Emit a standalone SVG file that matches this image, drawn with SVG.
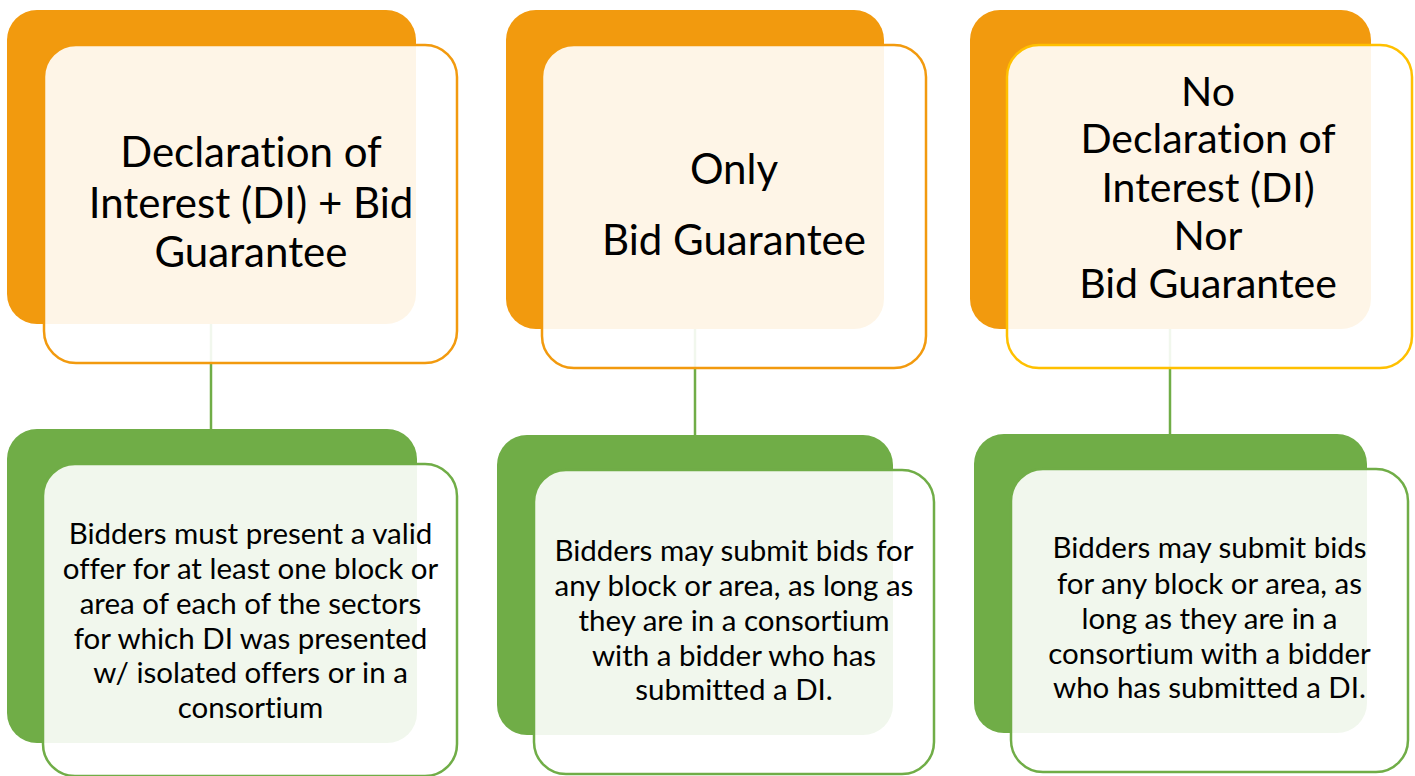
<svg xmlns="http://www.w3.org/2000/svg" width="1415" height="776" viewBox="0 0 1415 776">
<style>
.bo{fill:#F29A0E}
.bg{fill:#70AD47}
.fo{fill:#fff;fill-opacity:0.9;stroke:#F29A0E;stroke-width:2.5}
.fy{fill:#fff;fill-opacity:0.9;stroke:#FFC000;stroke-width:2.5}
.fg{fill:#fff;fill-opacity:0.9;stroke:#70AD47;stroke-width:2.5}
.conn line{stroke:#70AD47;stroke-width:2.5}
text{font-family:Lato,"Liberation Sans",sans-serif;fill:#000;text-anchor:middle;font-variant-ligatures:none}
.t{font-size:42px}
.t3{font-size:41px}
.b{font-size:29.5px}
</style>
<rect width="1415" height="776" fill="#fff"/>
<g id="backs">
<rect class="bo" x="7" y="10" width="409" height="314" rx="30"/>
<rect class="bo" x="506" y="10" width="378" height="319" rx="30"/>
<rect class="bo" x="970" y="10" width="401" height="319" rx="30"/>
<rect class="bg" x="7" y="429" width="410" height="314" rx="30"/>
<rect class="bg" x="497" y="435" width="396" height="300" rx="30"/>
<rect class="bg" x="974" y="434" width="393" height="299" rx="30"/>
</g>
<g id="connectors" class="conn">
<line x1="211" y1="324" x2="211" y2="429"/>
<line x1="695" y1="329" x2="695" y2="435"/>
<line x1="1170" y1="329" x2="1170" y2="434"/>
</g>
<g id="node1">
<rect class="fo" x="44" y="45" width="413" height="318" rx="32"/>
<text class="t" x="251" y="167">Declaration of</text>
<text class="t" x="251" y="218">Interest (DI) + Bid</text>
<text class="t" x="251" y="267">Guarantee</text>
</g>
<g id="node2">
<rect class="fo" x="542" y="45" width="384" height="323" rx="32"/>
<text class="t" x="734" y="184">Only</text>
<text class="t" x="734" y="255">Bid Guarantee</text>
</g>
<g id="node3">
<rect class="fy" x="1007" y="45" width="405" height="323" rx="32"/>
<text class="t3" x="1208" y="106">No</text>
<text class="t3" x="1208" y="153">Declaration of</text>
<text class="t3" x="1208" y="202">Interest (DI)</text>
<text class="t3" x="1208" y="250">Nor</text>
<text class="t3" x="1208" y="298">Bid Guarantee</text>
</g>
<g id="node4">
<rect class="fg" x="43" y="464" width="414" height="312" rx="32"/>
<text class="b" x="250.5" y="544">Bidders must present a valid</text>
<text class="b" x="250.5" y="579">offer for at least one block or</text>
<text class="b" x="250.5" y="614">area of each of the sectors</text>
<text class="b" x="250.5" y="649">for which DI was presented</text>
<text class="b" x="250.5" y="683">w/ isolated offers or in a</text>
<text class="b" x="250.5" y="718">consortium</text>
</g>
<g id="node5">
<rect class="fg" x="534" y="470" width="400" height="304" rx="32"/>
<text class="b" x="734" y="561">Bidders may submit bids for</text>
<text class="b" x="734" y="596">any block or area, as long as</text>
<text class="b" x="734" y="631">they are in a consortium</text>
<text class="b" x="734" y="666">with a bidder who has</text>
<text class="b" x="734" y="700">submitted a DI.</text>
</g>
<g id="node6">
<rect class="fg" x="1011" y="469" width="397" height="303" rx="32"/>
<text class="b" x="1209.5" y="558">Bidders may submit bids</text>
<text class="b" x="1209.5" y="594">for any block or area, as</text>
<text class="b" x="1209.5" y="629">long as they are in a</text>
<text class="b" x="1209.5" y="664">consortium with a bidder</text>
<text class="b" x="1209.5" y="698">who has submitted a DI.</text>
</g>
</svg>
